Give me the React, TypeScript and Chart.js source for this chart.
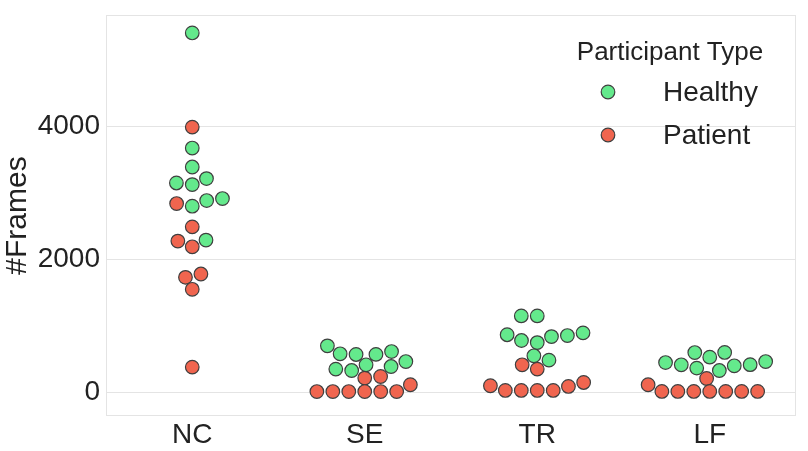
import React, { useEffect, useRef } from 'react';
import { Chart, registerables } from 'chart.js';

Chart.register(...registerables);

// ---- data ----
const categories = ['NC', 'SE', 'TR', 'LF'];
const seriesNames = ['Healthy', 'Patient'];
const legendTitle = 'Participant Type';
const yAxisTitle = '#Frames';
const yTickValues = [0, 2000, 4000];

const healthyNC = [5400, 3669, 3384, 3144, 3120, 3210, 2795, 2880, 2910, 2285];
const healthySE = [695, 575, 565, 566, 609, 459, 345, 324, 410, 384];
const healthyTR = [1145, 1145, 850, 775, 744, 834, 862, 890, 545, 480];
const healthyLF = [444, 410, 594, 525, 596, 360, 324, 395, 412, 459];

const patientNC = [3984, 2835, 2484, 2270, 2184, 1725, 1775, 1545, 375];
const patientSE = [210, 234, 8, 8, 8, 8, 8, 8, 110];
const patientTR = [410, 345, 95, 24, 24, 24, 24, 84, 144];
const patientLF = [204, 9, 9, 9, 9, 9, 9, 9, 110];

const healthy = [healthyNC, healthySE, healthyTR, healthyLF];
const patient = [patientNC, patientSE, patientTR, patientLF];

// ---- style ----
const GREEN = '#64E98C';
const RED = '#F0654F';
const EDGE = '#3f3f3f';
const GRID = '#e4e4e4';
const TEXT = '#222222';
const FONT = "'Liberation Sans', Arial, sans-serif";
const POINT_R = 6.8;
const SWARM_D = 15.2; // swarm spacing (px)
const SWARM_KY = 0.87; // vertical compression used by the swarm layout

// seaborn-style beeswarm, working in pixel space around the category midline
function beeswarm(ys: number[], midline: number, d: number): number[] {
  const placed: { x: number; y: number }[] = [];
  for (let i = 0; i < ys.length; i++) {
    const y = ys[i];
    if (i === 0) {
      placed.push({ x: midline, y });
      continue;
    }
    const neighbors: { x: number; y: number }[] = [];
    for (let j = placed.length - 1; j >= 0; j--) {
      if (y - placed[j].y < d) neighbors.push(placed[j]);
      else break;
    }
    neighbors.reverse();
    const cands: number[] = [midline];
    let leftFirst = true;
    for (const n of neighbors) {
      const dy = y - n.y;
      const dx = Math.sqrt(Math.max(d * d - dy * dy, 0)) * 1.05;
      const cl = n.x - dx;
      const cr = n.x + dx;
      if (leftFirst) cands.push(cl, cr);
      else cands.push(cr, cl);
      leftFirst = !leftFirst;
    }
    const sorted = cands
      .map((x, idx) => ({ x, idx, off: Math.abs(x - midline) }))
      .sort((a, b) => a.off - b.off || a.idx - b.idx);
    let chosen = sorted[0].x;
    if (neighbors.length) {
      for (const c of sorted) {
        const ok = neighbors.every(
          (n) => (n.x - c.x) * (n.x - c.x) + (n.y - y) * (n.y - y) >= d * d
        );
        if (ok) {
          chosen = c.x;
          break;
        }
      }
    }
    placed.push({ x: chosen, y });
  }
  return placed.map((p) => p.x);
}

const framePlugin = {
  id: 'frame',
  beforeDatasetsDraw(chart: any) {
    const { ctx, chartArea: a } = chart;
    ctx.save();
    ctx.strokeStyle = GRID;
    ctx.lineWidth = 1;
    ctx.strokeRect(a.left + 0.5, a.top + 0.5, a.right - a.left - 1, a.bottom - a.top - 1);
    ctx.restore();
  },
};

const legendPlugin = {
  id: 'customLegend',
  afterDraw(chart: any) {
    const { ctx } = chart;
    ctx.save();
    ctx.fillStyle = TEXT;
    ctx.textBaseline = 'middle';
    ctx.textAlign = 'center';
    ctx.font = `26px ${FONT}`;
    ctx.fillText(legendTitle, 670, 53);
    const colors = [GREEN, RED];
    const rowsY = [92, 135];
    seriesNames.forEach((name, i) => {
      ctx.beginPath();
      ctx.arc(608, rowsY[i], POINT_R, 0, Math.PI * 2);
      ctx.fillStyle = colors[i];
      ctx.fill();
      ctx.lineWidth = 1.2;
      ctx.strokeStyle = EDGE;
      ctx.stroke();
      ctx.fillStyle = TEXT;
      ctx.textAlign = 'left';
      ctx.font = `28px ${FONT}`;
      ctx.fillText(name, 663, rowsY[i] + 1);
    });
    ctx.restore();
  },
};

export default function App() {
  const ref = useRef<HTMLCanvasElement>(null);

  useEffect(() => {
    document.body.style.margin = '0';
    const groups = [healthy, patient];
    const colors = [GREEN, RED];
    const datasets = groups.map((g, s) => ({
      label: seriesNames[s],
      data: g.flatMap((vals, c) => vals.map((v) => ({ x: c, y: v, cat: c }))),
      backgroundColor: colors[s],
      borderColor: EDGE,
      borderWidth: 1.2,
      pointRadius: POINT_R,
      pointHoverRadius: POINT_R,
    }));

    const chart = new Chart(ref.current as HTMLCanvasElement, {
      type: 'scatter',
      data: { datasets: datasets as any },
      options: {
        animation: false,
        responsive: true,
        maintainAspectRatio: false,
        layout: { padding: { top: 15, right: 12, left: 0, bottom: 0 } },
        plugins: { legend: { display: false }, tooltip: { enabled: false } },
        scales: {
          x: {
            type: 'linear',
            min: -0.5,
            max: 3.5,
            afterBuildTicks: (s: any) => {
              s.ticks = categories.map((_, i) => ({ value: i }));
            },
            afterFit: (s: any) => {
              s.height = 35;
              s.paddingLeft = 0;
              s.paddingRight = 0;
            },
            grid: { display: false, drawTicks: false },
            border: { display: false },
            ticks: {
              autoSkip: false,
              maxRotation: 0,
              padding: 2,
              color: TEXT,
              font: { family: FONT, size: 28 },
              callback: (v: any) => categories[Math.round(Number(v))] ?? '',
            },
          },
          y: {
            min: -360,
            max: 5670,
            afterBuildTicks: (s: any) => {
              s.ticks = yTickValues.map((v) => ({ value: v }));
            },
            afterFit: (s: any) => {
              s.width = 106;
              s.paddingTop = 0;
              s.paddingBottom = 0;
            },
            grid: { color: GRID, lineWidth: 1, drawTicks: false },
            border: { display: false },
            ticks: {
              padding: 6,
              color: TEXT,
              font: { family: FONT, size: 28 },
              callback: (v: any) => String(v),
            },
            title: {
              display: true,
              text: yAxisTitle,
              color: TEXT,
              font: { family: FONT, size: 30 },
              padding: 0,
            },
          },
        },
      },
      plugins: [framePlugin, legendPlugin],
    });

    // swarm layout computed from the laid-out scales
    const xs: any = chart.scales.x;
    const ysc: any = chart.scales.y;
    const pxPerCat = xs.getPixelForValue(1) - xs.getPixelForValue(0);
    categories.forEach((_, c) => {
      const pts: any[] = [];
      datasets.forEach((ds) =>
        ds.data.forEach((p: any) => {
          if (p.cat === c) pts.push(p);
        })
      );
      const mid = xs.getPixelForValue(c);
      const withY = pts.map((p) => ({ p, yc: -ysc.getPixelForValue(p.y) / SWARM_KY }));
      withY.sort((a, b) => a.yc - b.yc);
      const xsPx = beeswarm(withY.map((w) => w.yc), mid, SWARM_D);
      withY.forEach((w, i) => {
        let o = (xsPx[i] - mid) / pxPerCat;
        if (o > 0.4) o = 0.4;
        if (o < -0.4) o = -0.4;
        w.p.x = c + o;
      });
    });
    chart.update();

    return () => chart.destroy();
  }, []);

  return (
    <div style={{ width: 808, height: 451, position: 'relative' }}>
      <canvas ref={ref} />
    </div>
  );
}
